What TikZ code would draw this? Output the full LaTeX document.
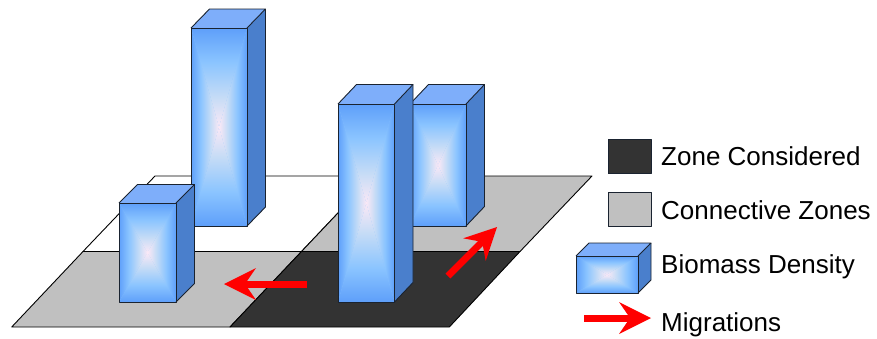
\documentclass[tikz,border=0pt]{standalone}
\usepackage{fontspec}
\setmainfont{Liberation Sans}
\usetikzlibrary{arrows.meta}
\definecolor{zdark}{HTML}{333333}
\definecolor{zgray}{HTML}{C0C0C0}
\definecolor{bside}{HTML}{4A7FCC}
\definecolor{btop}{HTML}{7EAEFA}
\definecolor{bedge}{HTML}{5E9FFA}
\definecolor{bmid}{HTML}{8AC4FF}
\definecolor{blight}{HTML}{C6DCF6}
\definecolor{bctr}{HTML}{FAE8F6}
\definecolor{bline}{HTML}{1A2330}
\definecolor{arrred}{HTML}{FF0000}
\pgfdeclarehorizontalshading{faceshade}{100bp}{color(0bp)=(bedge); color(25bp)=(bedge); color(42bp)=(bmid); color(60bp)=(blight); color(75bp)=(bctr); color(100bp)=(bctr)}
\tikzset{
  zoneline/.style={draw=black, line width=0.9pt, line join=round},
  boxline/.style={draw=bline, line width=0.9pt, line join=round},
  migr/.style={draw=arrred, line width=7pt, -{Stealth[length=32pt,width=32pt,inset=11pt,line width=0pt]}},
  legtext/.style={anchor=base west, inner sep=0pt, font=\fontsize{26}{30}\selectfont}
}
% #1=L #2=R #3=T #4=B #5=dx #6=dy (upward magnitude)
\newcommand\biobox[6]{%
  \fill[bside] (#2,#4) -- (#2,#3) -- (#2+#5,#3-#6) -- (#2+#5,#4-#6) -- cycle;
  \fill[btop] (#1,#3) -- (#2,#3) -- (#2+#5,#3-#6) -- (#1+#5,#3-#6) -- cycle;
  \fill[bmid] (#1,#3) rectangle (#2,#4);
  \coordinate (bc) at ({(#1+#2)/2},{(#3+#4)/2});
  \shade[shading=faceshade] (#1,#3) -- (#1,#4) -- (bc) -- cycle;
  \shade[shading=faceshade, shading angle=180] (#2,#3) -- (#2,#4) -- (bc) -- cycle;
  \shade[shading=faceshade, shading angle=90] (#1,#4) -- (#2,#4) -- (bc) -- cycle;
  \shade[shading=faceshade, shading angle=270] (#1,#3) -- (#2,#3) -- (bc) -- cycle;
  \draw[boxline] (#1,#3) rectangle (#2,#4);
  \draw[boxline] (#1,#3) -- (#1+#5,#3-#6) -- (#2+#5,#3-#6) -- (#2,#3);
  \draw[boxline] (#2+#5,#3-#6) -- (#2+#5,#4-#6) -- (#2,#4);
}
\begin{document}
\begin{tikzpicture}[x=1pt,y=-1pt]
\useasboundingbox (0,0) rectangle (877,338);
% grid points
\coordinate (b0) at (11.7,327);
\coordinate (b1) at (230,327);
\coordinate (b2) at (449.3,327);
\coordinate (m0) at (83,251.5);
\coordinate (m1) at (301.5,251.5);
\coordinate (m2) at (520,251.5);
\coordinate (t0) at (155,176);
\coordinate (t1) at (373,176);
\coordinate (t2) at (592,176);
% zones
\filldraw[zoneline, fill=white] (m0) -- (m1) -- (t1) -- (t0) -- cycle;
\filldraw[zoneline, fill=zgray] (m1) -- (m2) -- (t2) -- (t1) -- cycle;
\filldraw[zoneline, fill=zgray] (b0) -- (b1) -- (m1) -- (m0) -- cycle;
\filldraw[zoneline, fill=zdark] (b1) -- (b2) -- (m2) -- (m1) -- cycle;
% biomass boxes
\biobox{191}{247}{28}{226}{18.5}{19}
\biobox{410}{466}{104}{226}{18.5}{19.5}
\biobox{119}{176}{203}{302}{18.5}{18.5}
\biobox{338}{394.5}{104}{302}{18.5}{19.5}
% migrations
\coordinate (a1s) at (307,284);
\coordinate (a1e) at (224,284);
\coordinate (a2s) at (448,276);
\coordinate (a2e) at (497,227);
\draw[migr] (a1s) -- (a1e);
\draw[migr] (a2s) -- (a2e);
% legend
\filldraw[boxline, fill=zdark] (608,139.5) rectangle (651,173.5);
\filldraw[boxline, fill=zgray] (608,192.5) rectangle (651,226.5);
\biobox{576}{638}{256}{293}{13}{13}
\coordinate (l4s) at (584,318);
\coordinate (l4e) at (651,318);
\draw[migr] (l4s) -- (l4e);
\node[legtext] (t1l) at (661,165.7) {Zone Considered};
\node[legtext] (t2l) at (661,219) {Connective Zones};
\node[legtext] (t3l) at (661,273.3) {Biomass Density};
\node[legtext] (t4l) at (661,331.7) {Migrations};
\end{tikzpicture}
\end{document}
